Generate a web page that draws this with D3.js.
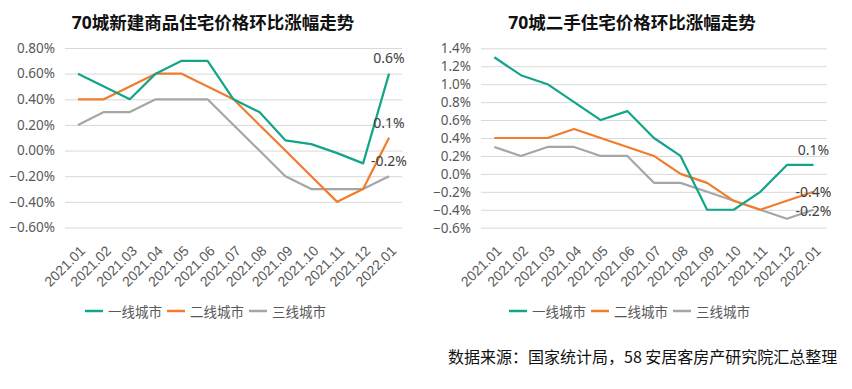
<!DOCTYPE html>
<html>
<head>
<meta charset="utf-8">
<script src="https://cdn.jsdelivr.net/npm/d3@7"></script>
<style>
  body { margin: 0; background: #fff; }
  svg { font-family: "Noto Sans", "Noto Sans CJK SC", sans-serif; }
</style>
</head>
<body>
<svg id="chart" width="852" height="389"></svg>
<script>
// categories
const months = ["2021.01", "2021.02", "2021.03", "2021.04", "2021.05", "2021.06", "2021.07",
                "2021.08", "2021.09", "2021.10", "2021.11", "2021.12", "2022.01"];
const seriesNames = ["一线城市", "二线城市", "三线城市"];
const colors = ["#13a58a", "#f07c2c", "#a6a6a6"];

// 70城新建商品住宅 (%)
const newTier1 = [0.6, 0.5, 0.4, 0.6, 0.7, 0.7, 0.4, 0.3, 0.08, 0.05, -0.02, -0.1, 0.6];
const newTier2 = [0.4, 0.4, 0.5, 0.6, 0.6, 0.5, 0.4, 0.2, 0.0, -0.2, -0.4, -0.3, 0.1];
const newTier3 = [0.2, 0.3, 0.3, 0.4, 0.4, 0.4, 0.2, 0.0, -0.2, -0.3, -0.3, -0.3, -0.2];
const newTicks = [-0.6, -0.4, -0.2, 0, 0.2, 0.4, 0.6, 0.8];
const newLabels = ["0.6%", "0.1%", "-0.2%"];

// 70城二手住宅 (%)
const usedTier1 = [1.3, 1.1, 1.0, 0.8, 0.6, 0.7, 0.4, 0.2, -0.4, -0.4, -0.2, 0.1, 0.1];
const usedTier2 = [0.4, 0.4, 0.4, 0.5, 0.4, 0.3, 0.2, 0.0, -0.1, -0.3, -0.4, -0.3, -0.2];
const usedTier3 = [0.3, 0.2, 0.3, 0.3, 0.2, 0.2, -0.1, -0.1, -0.2, -0.3, -0.4, -0.5, -0.4];
const usedTicks = [-0.6, -0.4, -0.2, 0, 0.2, 0.4, 0.6, 0.8, 1.0, 1.2, 1.4];
const usedLabels = ["0.1%", "-0.4%", "-0.2%"];

const svg = d3.select("#chart");

function drawPanel(opt) {
    const g = svg.append("g");

    const x = d3.scaleBand().domain(months).range([opt.left, opt.right]);
    const y = d3.scaleLinear().domain(opt.domain).range([opt.bottom, opt.top]);

    // title
    g.append("text")
        .attr("x", opt.center).attr("y", 29)
        .attr("text-anchor", "middle")
        .attr("font-size", 17.5).attr("font-weight", "bold")
        .attr("fill", "#111")
        .text(opt.title);

    // y axis + grid
    const yAxis = g.append("g")
        .attr("transform", "translate(" + opt.left + ",0)")
        .call(d3.axisLeft(y).tickValues(opt.ticks)
            .tickSize(-(opt.right - opt.left)).tickPadding(10)
            .tickFormat(d => d3.format("." + opt.digits + "f")(d) + "%"));
    yAxis.select(".domain").remove();
    yAxis.selectAll("line").attr("stroke", "#d9d9d9").attr("stroke-width", 1);
    yAxis.selectAll("text").attr("font-size", 13.5).attr("fill", "#595959")
        .attr("font-family", "'Noto Sans', sans-serif");

    // x axis
    const xAxis = g.append("g")
        .attr("transform", "translate(0," + opt.bottom + ")")
        .call(d3.axisBottom(x).tickSize(0));
    xAxis.select(".domain").remove();
    xAxis.selectAll("text")
        .attr("font-size", 14).attr("fill", "#595959")
        .attr("text-anchor", "end")
        .attr("y", 0).attr("dy", "0.72em")
        .attr("transform", "translate(1,17) rotate(-45)");

    const line = d3.line()
        .x((d, i) => x(months[i]) + x.bandwidth() / 2)
        .y(d => y(d));

    // draw tier3 first so tier1 sits on top
    for (let s = opt.series.length - 1; s >= 0; s--) {
        g.append("path")
            .datum(opt.series[s])
            .attr("fill", "none")
            .attr("stroke", colors[s])
            .attr("stroke-width", 2.2)
            .attr("stroke-linejoin", "round")
            .attr("d", line);
    }

    // end labels
    const last = months.length - 1;
    opt.series.forEach((vals, s) => {
        g.append("text")
            .attr("x", x(months[last]) + x.bandwidth() / 2)
            .attr("y", y(vals[last]) + opt.labelOffsets[s])
            .attr("text-anchor", "middle")
            .attr("dominant-baseline", "central")
            .attr("font-size", 14).attr("fill", "#404040")
            .text(opt.labels[s]);
    });

    // legend
    let lx = opt.legendX;
    seriesNames.forEach((name, s) => {
        g.append("line")
            .attr("x1", lx).attr("x2", lx + 18)
            .attr("y1", 311).attr("y2", 311)
            .attr("stroke", colors[s]).attr("stroke-width", 2.5);
        const t = g.append("text")
            .attr("x", lx + 23).attr("y", 311)
            .attr("dominant-baseline", "central")
            .attr("font-size", 13.5).attr("fill", "#595959")
            .attr("font-family", "'Noto Sans CJK SC', sans-serif")
            .text(name);
        lx += 23 + t.node().getComputedTextLength() + 5;
    });
}

drawPanel({
    title: "70城新建商品住宅价格环比涨幅走势", center: 213,
    left: 65, right: 402, top: 48, bottom: 227.5,
    domain: [-0.6, 0.8], ticks: newTicks, digits: 2,
    series: [newTier1, newTier2, newTier3],
    labels: newLabels, labelOffsets: [-16, -15, -15.5],
    legendX: 85
});

drawPanel({
    title: "70城二手住宅价格环比涨幅走势", center: 632,
    left: 481, right: 826.8, top: 48.3, bottom: 227.7,
    domain: [-0.6, 1.4], ticks: usedTicks, digits: 1,
    series: [usedTier1, usedTier2, usedTier3],
    labels: usedLabels, labelOffsets: [-15.7, -0.8, 0.8],
    legendX: 509
});

svg.append("text")
    .attr("x", 448).attr("y", 356)
    .attr("dominant-baseline", "central")
    .attr("font-size", 16).attr("fill", "#111")
    .attr("font-family", "'Noto Sans CJK SC', sans-serif")
    .text("数据来源：国家统计局，58 安居客房产研究院汇总整理");
</script>
</body>
</html>
